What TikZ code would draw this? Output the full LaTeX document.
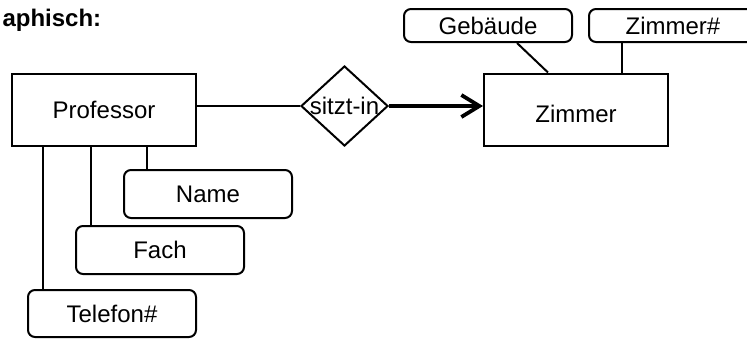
\documentclass[tikz,border=0pt]{standalone}
\usepackage{fontspec}
\setmainfont{Liberation Sans}
\usepackage{tikz}
\usetikzlibrary{shapes.geometric, arrows.meta, positioning}
\newcommand{\erfont}{\fontsize{24}{28}\selectfont}

\begin{document}
\begin{tikzpicture}[
        x=1pt, y=-1pt,
        entity/.style={rectangle, draw, line width=2pt, minimum width=184pt, minimum height=72pt, align=center, font=\erfont},
        attr/.style={rectangle, draw, rounded corners=7pt, line width=2pt, minimum width=168pt, minimum height=48pt, inner sep=0pt, font=\erfont},
        rel/.style={diamond, draw, line width=2pt, minimum width=87pt, minimum height=80pt, inner sep=0pt, font=\erfont},
        link/.style={line width=2pt},
        arrow/.style={-{Straight Barb[length=18pt, width=22pt]}, line width=3.8pt}
    ]
        \useasboundingbox (0,0) rectangle (747,338);

        \node[anchor=base west, font=\erfont\bfseries] (title) at (-1,26) {aphisch:};

        \node[entity] (prof) at (104,110) {Professor};
        \node[rel] (sitzt) at (344.5,106) {\makebox[0pt]{sitzt-in}};
        \node[entity] (zimmer) at (576,109.5) {\raisebox{-4pt}[\height][\depth]{Zimmer}};

        \node[attr, minimum height=33pt] (gebaeude) at (488,25.5) {Gebäude};
        \node[attr, minimum height=33pt, right=15pt of gebaeude] (zimmernr) {Zimmer\#};

        \node[attr] (name) at (208,194) {Name};
        \node[attr] (fach) at (160,250) {Fach};
        \node[attr, minimum height=47pt] (telefon) at (112,313.5) {Telefon\#};

        \draw[link] (prof.east |- sitzt.west) -- (sitzt.west);
        \draw[arrow] (sitzt.east) -- (sitzt.east -| zimmer.west);

        \draw[link] ([xshift=24pt]name.north west) -- ([xshift=24pt]name.north west |- prof.south);
        \draw[link] ([xshift=16pt]fach.north west) -- ([xshift=16pt]fach.north west |- prof.south);
        \draw[link] ([xshift=16pt]telefon.north west) -- ([xshift=16pt]telefon.north west |- prof.south);

        \draw[link] ([xshift=29pt]gebaeude.south) -- ([xshift=-28pt]zimmer.north);
        \draw[link] ([xshift=-51pt]zimmernr.south) -- ([xshift=-51pt]zimmernr.south |- zimmer.north);
    \end{tikzpicture}
\end{document}
